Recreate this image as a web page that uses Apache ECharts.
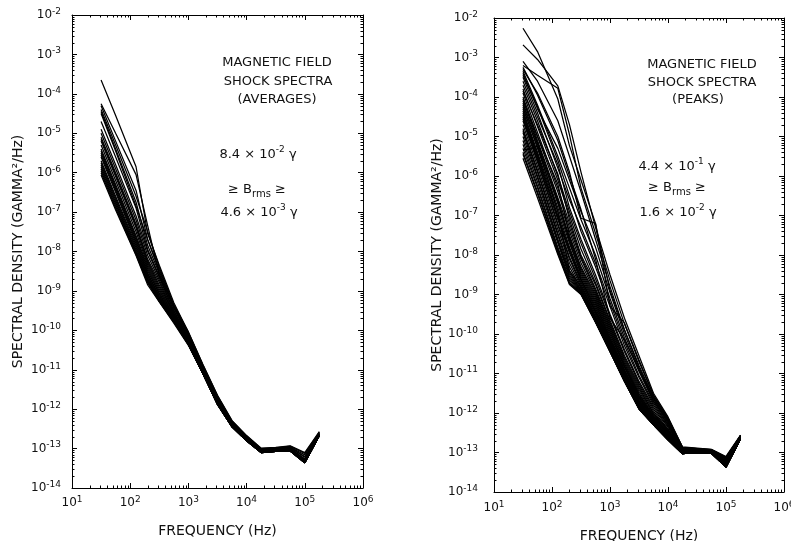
<!DOCTYPE html>
<html><head><meta charset="utf-8">
<script src="https://cdn.jsdelivr.net/npm/echarts@6/dist/echarts.min.js"></script>
<style>html,body{margin:0;padding:0;background:#fff}#c{width:791px;height:541px}</style>
</head><body><div id="c"></div><script>
// Frequencies (Hz) of the spectral channels
const freqs = [31.6, 56.2, 126, 200, 316, 562, 1000, 1778, 3162, 5623, 10000, 17783, 31623, 56234, 100000, 177828];
// Axis decade exponents (tick labels 10^n)
const xDecades = [1, 2, 3, 4, 5, 6];
const yDecades = [-14, -13, -12, -11, -10, -9, -8, -7, -6, -5, -4, -3, -2];

// log10 of spectral density (gamma^2/Hz), one row per shock — AVERAGES panel
const avgSpectra = [
 [-3.65,-4.55,-5.85,-7.55,-8.35,-9.30,-10.05,-10.88,-11.66,-12.30,-12.68,-13.00,-12.98,-12.94,-13.12,-12.58],
 [-4.25,-5.00,-6.05,-7.35,-8.60,-9.40,-10.08,-10.90,-11.68,-12.32,-12.70,-13.02,-12.99,-12.96,-13.16,-12.60],
 [-4.30,-5.20,-6.45,-7.70,-8.45,-9.38,-10.12,-10.94,-11.72,-12.35,-12.72,-13.03,-13.01,-12.98,-13.22,-12.62],
 [-4.40,-5.30,-6.60,-7.50,-8.40,-9.35,-10.04,-10.87,-11.65,-12.29,-12.67,-12.99,-12.97,-12.93,-13.10,-12.57],
 [-4.45,-5.40,-6.75,-7.85,-8.55,-9.45,-10.15,-10.97,-11.75,-12.37,-12.74,-13.04,-13.02,-13.00,-13.26,-12.63],
 [-4.50,-5.45,-6.85,-7.70,-8.50,-9.42,-10.11,-10.93,-11.71,-12.34,-12.71,-13.03,-13.00,-12.97,-13.20,-12.61],
 [-4.70,-5.60,-6.90,-7.95,-8.62,-9.50,-10.18,-10.99,-11.77,-12.38,-12.75,-13.05,-13.03,-13.01,-13.28,-12.64],
 [-4.90,-5.80,-7.10,-8.00,-8.66,-9.52,-10.20,-11.00,-11.78,-12.39,-12.76,-13.06,-13.03,-13.02,-13.30,-12.64],
 [-5.00,-5.90,-7.20,-8.10,-8.72,-9.56,-10.22,-11.02,-11.80,-12.40,-12.76,-13.06,-13.04,-13.02,-13.31,-12.65],
 [-5.10,-6.00,-7.30,-8.20,-8.78,-9.60,-10.25,-11.03,-11.81,-12.41,-12.77,-13.07,-13.04,-13.03,-13.32,-12.65],
 [-5.15,-6.05,-7.35,-8.25,-8.85,-9.58,-10.24,-11.04,-11.80,-12.40,-12.77,-13.07,-13.05,-13.03,-13.30,-12.66],
 [-5.20,-6.10,-7.40,-8.30,-8.90,-9.62,-10.27,-11.05,-11.82,-12.42,-12.78,-13.08,-13.05,-13.04,-13.33,-12.66],
 [-5.30,-6.20,-7.50,-8.35,-8.95,-9.65,-10.28,-11.06,-11.83,-12.42,-12.78,-13.08,-13.05,-13.04,-13.33,-12.66],
 [-5.40,-6.30,-7.60,-8.40,-9.00,-9.66,-10.30,-11.07,-11.84,-12.43,-12.78,-13.08,-13.06,-13.04,-13.34,-12.66],
 [-5.45,-6.35,-7.65,-8.45,-9.05,-9.68,-10.30,-11.07,-11.85,-12.43,-12.79,-13.09,-13.06,-13.05,-13.34,-12.67],
 [-5.50,-6.40,-7.70,-8.50,-9.08,-9.70,-10.31,-11.08,-11.85,-12.44,-12.79,-13.09,-13.06,-13.05,-13.35,-12.67],
 [-5.55,-6.45,-7.75,-8.55,-9.12,-9.70,-10.32,-11.08,-11.86,-12.44,-12.79,-13.09,-13.06,-13.05,-13.35,-12.67],
 [-5.60,-6.50,-7.80,-8.58,-9.15,-9.72,-10.33,-11.09,-11.86,-12.44,-12.80,-13.10,-13.07,-13.05,-13.35,-12.67],
 [-5.70,-6.60,-7.85,-8.62,-9.18,-9.73,-10.34,-11.09,-11.87,-12.45,-12.80,-13.10,-13.07,-13.06,-13.36,-12.67],
 [-5.75,-6.65,-7.90,-8.66,-9.20,-9.74,-10.34,-11.10,-11.87,-12.45,-12.80,-13.10,-13.07,-13.06,-13.36,-12.67],
 [-5.80,-6.70,-7.95,-8.70,-9.22,-9.75,-10.35,-11.10,-11.88,-12.45,-12.80,-13.10,-13.07,-13.06,-13.36,-12.67],
 [-5.85,-6.75,-8.00,-8.72,-9.24,-9.76,-10.35,-11.10,-11.88,-12.45,-12.80,-13.10,-13.07,-13.06,-13.36,-12.67],
 [-5.90,-6.80,-8.02,-8.75,-9.25,-9.77,-10.36,-11.10,-11.88,-12.45,-12.80,-13.10,-13.07,-13.06,-13.36,-12.67],
 [-5.95,-6.85,-8.05,-8.78,-9.26,-9.78,-10.36,-11.10,-11.88,-12.45,-12.80,-13.10,-13.07,-13.06,-13.36,-12.67],
 [-6.00,-6.90,-8.08,-8.80,-9.27,-9.79,-10.37,-11.10,-11.88,-12.45,-12.80,-13.10,-13.07,-13.06,-13.36,-12.67],
 [-6.06,-6.95,-8.10,-8.85,-9.28,-9.82,-10.38,-11.10,-11.88,-12.45,-12.80,-13.10,-13.07,-13.06,-13.36,-12.67]
];

// log10 of spectral density (gamma^2/Hz), one row per shock — PEAKS panel
const peakSpectra = [
 [-2.26,-2.85,-4.05,-5.23,-6.10,-7.20,-9.30,-9.72,-10.66,-11.55,-12.15,-12.88,-12.92,-12.95,-13.15,-12.58],
 [-2.68,-3.05,-3.72,-4.70,-5.90,-7.30,-8.50,-9.60,-10.55,-11.50,-12.10,-12.87,-12.90,-12.93,-13.12,-12.57],
 [-3.20,-3.45,-3.78,-4.95,-6.30,-7.45,-8.65,-9.75,-10.70,-11.55,-12.12,-12.86,-12.89,-12.92,-13.10,-12.56],
 [-3.30,-3.90,-5.00,-5.90,-7.07,-7.20,-8.90,-9.90,-10.80,-11.60,-12.18,-12.88,-12.91,-12.94,-13.14,-12.58],
 [-3.35,-4.20,-5.50,-6.30,-7.10,-8.00,-9.10,-10.10,-10.95,-11.70,-12.25,-12.90,-12.92,-12.95,-13.18,-12.59],
 [-3.40,-4.30,-5.30,-6.10,-6.90,-7.80,-8.95,-10.00,-10.90,-11.65,-12.22,-12.89,-12.91,-12.94,-13.16,-12.58],
 [-3.45,-4.25,-5.60,-6.50,-7.40,-8.30,-9.30,-10.30,-11.10,-11.80,-12.30,-12.92,-12.93,-12.96,-13.20,-12.60],
 [-3.50,-4.40,-5.80,-6.60,-7.30,-8.20,-9.20,-10.20,-11.05,-11.75,-12.28,-12.91,-12.93,-12.96,-13.22,-12.60],
 [-3.60,-4.50,-5.70,-6.80,-7.60,-8.50,-9.50,-10.40,-11.20,-11.85,-12.33,-12.93,-12.94,-12.97,-13.24,-12.61],
 [-3.70,-4.60,-6.00,-6.90,-7.70,-8.60,-9.55,-10.45,-11.25,-11.90,-12.36,-12.94,-12.95,-12.97,-13.25,-12.61],
 [-3.80,-4.75,-6.10,-7.00,-7.85,-8.70,-9.65,-10.55,-11.30,-11.95,-12.40,-12.95,-12.95,-12.98,-13.26,-12.62],
 [-3.85,-4.70,-5.95,-7.10,-8.00,-8.75,-9.70,-10.60,-11.35,-12.00,-12.42,-12.96,-12.96,-12.98,-13.27,-12.62],
 [-3.90,-4.90,-6.30,-7.20,-8.05,-8.85,-9.75,-10.65,-11.40,-12.02,-12.44,-12.96,-12.96,-12.99,-13.28,-12.62],
 [-4.00,-5.00,-6.40,-7.30,-8.10,-8.90,-9.80,-10.70,-11.45,-12.05,-12.46,-12.97,-12.97,-12.99,-13.29,-12.63],
 [-4.05,-5.10,-6.55,-7.40,-8.20,-8.95,-9.85,-10.75,-11.50,-12.08,-12.48,-12.97,-12.97,-13.00,-13.30,-12.63],
 [-4.10,-5.00,-6.20,-7.50,-8.30,-9.00,-9.90,-10.80,-11.52,-12.10,-12.50,-12.98,-12.97,-13.00,-13.30,-12.63],
 [-4.15,-5.15,-6.60,-7.55,-8.35,-9.05,-9.95,-10.82,-11.55,-12.12,-12.52,-12.98,-12.98,-13.00,-13.31,-12.64],
 [-4.20,-5.20,-6.70,-7.60,-8.40,-9.10,-10.00,-10.85,-11.58,-12.14,-12.54,-12.99,-12.98,-13.00,-13.32,-12.64],
 [-4.25,-5.30,-6.80,-7.70,-8.45,-9.15,-10.05,-10.90,-11.60,-12.16,-12.56,-12.99,-12.98,-13.01,-13.32,-12.64],
 [-4.30,-5.25,-6.65,-7.65,-8.50,-9.20,-10.10,-10.92,-11.62,-12.18,-12.58,-13.00,-12.99,-13.01,-13.33,-12.64],
 [-4.35,-5.40,-6.90,-7.80,-8.55,-9.25,-10.12,-10.95,-11.65,-12.20,-12.60,-13.00,-12.99,-13.01,-13.33,-12.65],
 [-4.40,-5.45,-7.00,-7.85,-8.60,-9.30,-10.15,-10.98,-11.68,-12.22,-12.61,-13.01,-12.99,-13.01,-13.34,-12.65],
 [-4.45,-5.50,-7.05,-7.90,-8.62,-9.35,-10.18,-11.00,-11.70,-12.23,-12.62,-13.01,-13.00,-13.02,-13.34,-12.65],
 [-4.50,-5.55,-7.10,-7.95,-8.65,-9.40,-10.20,-11.02,-11.72,-12.24,-12.63,-13.01,-13.00,-13.02,-13.35,-12.65],
 [-4.55,-5.60,-7.20,-8.05,-8.70,-9.42,-10.22,-11.05,-11.75,-12.25,-12.64,-13.02,-13.00,-13.02,-13.35,-12.65],
 [-4.60,-5.65,-7.25,-8.10,-8.75,-9.45,-10.25,-11.08,-11.78,-12.26,-12.65,-13.02,-13.00,-13.02,-13.35,-12.66],
 [-4.70,-5.75,-7.35,-8.20,-8.80,-9.50,-10.28,-11.10,-11.80,-12.27,-12.65,-13.02,-13.00,-13.02,-13.36,-12.66],
 [-4.80,-5.85,-7.45,-8.30,-8.85,-9.55,-10.30,-11.12,-11.82,-12.28,-12.66,-13.03,-13.00,-13.02,-13.36,-12.66],
 [-4.85,-5.90,-7.50,-8.40,-8.88,-9.58,-10.33,-11.14,-11.84,-12.28,-12.66,-13.03,-13.00,-13.02,-13.36,-12.66],
 [-4.90,-6.00,-7.60,-8.45,-8.90,-9.60,-10.35,-11.15,-11.85,-12.29,-12.67,-13.03,-13.00,-13.02,-13.37,-12.66],
 [-5.00,-6.05,-7.65,-8.50,-8.92,-9.62,-10.38,-11.16,-11.86,-12.29,-12.67,-13.03,-13.00,-13.02,-13.37,-12.66],
 [-5.10,-6.15,-7.70,-8.55,-8.94,-9.64,-10.40,-11.17,-11.87,-12.30,-12.68,-13.03,-13.00,-13.02,-13.37,-12.66],
 [-5.20,-6.25,-7.80,-8.60,-8.96,-9.66,-10.42,-11.18,-11.88,-12.30,-12.68,-13.03,-13.00,-13.02,-13.37,-12.66],
 [-5.35,-5.25,-6.90,-8.40,-8.80,-9.50,-10.25,-11.05,-11.75,-12.25,-12.64,-13.02,-13.00,-13.02,-13.35,-12.65],
 [-5.30,-6.30,-7.85,-8.65,-8.97,-9.68,-10.43,-11.19,-11.89,-12.30,-12.68,-13.03,-13.00,-13.02,-13.37,-12.66],
 [-5.40,-6.40,-7.90,-8.70,-8.98,-9.69,-10.44,-11.20,-11.90,-12.30,-12.68,-13.03,-13.00,-13.02,-13.37,-12.66],
 [-5.45,-6.45,-7.95,-8.72,-8.99,-9.70,-10.45,-11.20,-11.90,-12.30,-12.68,-13.03,-13.00,-13.02,-13.37,-12.66],
 [-5.55,-6.55,-7.99,-8.75,-9.00,-9.70,-10.45,-11.20,-11.90,-12.30,-12.68,-13.03,-13.00,-13.02,-13.37,-12.66],
 [-3.25,-3.95,-5.10,-6.00,-6.85,-8.10,-9.60,-10.15,-10.90,-11.70,-12.20,-12.89,-12.91,-12.94,-13.15,-12.58],
 [-3.10,-3.60,-4.60,-5.50,-6.40,-7.60,-8.80,-9.90,-10.85,-11.62,-12.17,-12.87,-12.90,-12.93,-13.12,-12.57]
];

const FONT = 'DejaVu Sans';
const INK = '#111';
const X_MIN = Math.pow(10, xDecades[0]), X_MAX = Math.pow(10, xDecades[xDecades.length - 1]);
const Y_MIN = Math.pow(10, yDecades[0]), Y_MAX = Math.pow(10, yDecades[yDecades.length - 1]);

const powLabel = v => '{b|10}{s|' + Math.round(Math.log10(v)) + '}';
const labelRich = {
  b: {fontFamily: FONT, fontSize: 12, color: INK, lineHeight: 16},
  s: {fontFamily: FONT, fontSize: 9, color: INK, verticalAlign: 'top', lineHeight: 10}
};

const grids = [
  {left: 72, top: 15, width: 291, height: 473, containLabel: false, outerBoundsMode: 'none'},
  {left: 494, top: 18, width: 290, height: 474, containLabel: false, outerBoundsMode: 'none'}
];

const xAxis = [], yAxis = [];
const yNameGap = [47, 50], xNameGap = [36, 37], yLabelMargin = [11, 16], xLabelMargin = [7, 8];
grids.forEach((g, gi) => {
  const common = {type: 'log', logBase: 10, gridIndex: gi, splitLine: {show: false},
    axisLine: {show: true, onZero: false, lineStyle: {color: '#000', width: 1}},
    axisTick: {show: true, inside: true, length: 5, lineStyle: {color: '#000', width: 1}}};
  xAxis.push(Object.assign({}, common, {position: 'bottom', min: X_MIN, max: X_MAX, interval: 1,
    axisLabel: {formatter: powLabel, rich: labelRich, margin: xLabelMargin[gi], interval: 0, showMinLabel: true, showMaxLabel: true},
    name: 'FREQUENCY (Hz)', nameLocation: 'middle', nameGap: xNameGap[gi],
    nameTextStyle: {fontFamily: FONT, fontSize: 14, color: INK}}));
  xAxis.push(Object.assign({}, common, {position: 'top', min: X_MIN, max: X_MAX, interval: 1, axisLabel: {show: false}}));
  yAxis.push(Object.assign({}, common, {position: 'left', min: Y_MIN, max: Y_MAX, interval: 1,
    axisLabel: {formatter: powLabel, rich: labelRich, margin: yLabelMargin[gi], interval: 0, showMinLabel: true, showMaxLabel: true},
    name: 'SPECTRAL DENSITY (GAMMA²/Hz)', nameLocation: 'middle', nameGap: yNameGap[gi], nameRotate: 90,
    nameTextStyle: {fontFamily: FONT, fontSize: 14, color: INK}}));
  yAxis.push(Object.assign({}, common, {position: 'right', min: Y_MIN, max: Y_MAX, interval: 1, axisLabel: {show: false}}));
});

// minor tick values 2..9 x 10^n (axis decoration)
const xMinor = [], yMinor = [];
xDecades.slice(0, -1).forEach(e => { for (let k = 2; k <= 9; k++) xMinor.push(k * Math.pow(10, e)); });
yDecades.slice(0, -1).forEach(e => { for (let k = 2; k <= 9; k++) yMinor.push(k * Math.pow(10, e)); });

const px = v => Math.round(v) + 0.5;
function minorTickSeries(gi, dir) {
  const vals = dir === 'x' ? xMinor : yMinor;
  return {
    type: 'custom', xAxisIndex: gi * 2, yAxisIndex: gi * 2, silent: true, clip: false, animation: false, z: 5,
    data: vals.map(v => dir === 'x' ? [v, Y_MIN] : [X_MIN, v]),
    renderItem: (params, api) => {
      const len = 2.5, st = {stroke: '#000', lineWidth: 1};
      if (dir === 'x') {
        const v = api.value(0);
        const b = api.coord([v, Y_MIN]), t = api.coord([v, Y_MAX]);
        return {type: 'group', children: [
          {type: 'line', shape: {x1: px(b[0]), y1: b[1], x2: px(b[0]), y2: b[1] - len}, style: st},
          {type: 'line', shape: {x1: px(t[0]), y1: t[1], x2: px(t[0]), y2: t[1] + len}, style: st}]};
      } else {
        const v = api.value(1);
        const l = api.coord([X_MIN, v]), r = api.coord([X_MAX, v]);
        return {type: 'group', children: [
          {type: 'line', shape: {x1: l[0], y1: px(l[1]), x2: l[0] + len, y2: px(l[1])}, style: st},
          {type: 'line', shape: {x1: r[0], y1: px(r[1]), x2: r[0] - len, y2: px(r[1])}, style: st}]};
      }
    }
  };
}

const series = [];
[avgSpectra, peakSpectra].forEach((set, gi) => {
  set.forEach((row, i) => {
    series.push({
      type: 'line', name: (gi ? 'peak ' : 'avg ') + (i + 1), xAxisIndex: gi * 2, yAxisIndex: gi * 2,
      data: freqs.map((f, j) => [f, Math.pow(10, row[j])]),
      showSymbol: false, symbol: 'none', silent: true, animation: false,
      lineStyle: {color: '#000', width: 1.25}
    });
  });
  series.push(minorTickSeries(gi, 'x'));
  series.push(minorTickSeries(gi, 'y'));
});

const annRich = {
  s: {fontFamily: FONT, fontSize: 9, color: INK, verticalAlign: 'top', lineHeight: 9},
  sub: {fontFamily: FONT, fontSize: 10, color: INK, verticalAlign: 'bottom', lineHeight: 10},
  n: {fontFamily: FONT, fontSize: 13, color: INK, lineHeight: 19}
};
function ann(x, y, text) {
  return {type: 'text', x: x, y: y, silent: true,
    style: {text: text, fill: INK, font: '13px "' + FONT + '"', align: 'center', verticalAlign: 'middle', rich: annRich}};
}
const graphic = [
  ann(277, 63, 'MAGNETIC FIELD'), ann(278, 82, 'SHOCK SPECTRA'), ann(277, 100, '(AVERAGES)'),
  ann(258, 155, '{n|8.4 × 10}{s|-2}{n| γ}'), ann(257, 190, '{n|≥ B}{sub|rms}{n| ≥}'), ann(259, 213, '{n|4.6 × 10}{s|-3}{n| γ}'),
  ann(702, 65, 'MAGNETIC FIELD'), ann(702, 83, 'SHOCK SPECTRA'), ann(698, 100, '(PEAKS)'),
  ann(677, 167, '{n|4.4 × 10}{s|-1}{n| γ}'), ann(677, 188, '{n|≥ B}{sub|rms}{n| ≥}'), ann(678, 213, '{n|1.6 × 10}{s|-2}{n| γ}')
];

const chart = echarts.init(document.getElementById('c'), null, {renderer: 'canvas'});
chart.setOption({
  backgroundColor: '#fff', animation: false,
  textStyle: {fontFamily: FONT},
  grid: grids, xAxis: xAxis, yAxis: yAxis, series: series, graphic: graphic
});
</script></body></html>
